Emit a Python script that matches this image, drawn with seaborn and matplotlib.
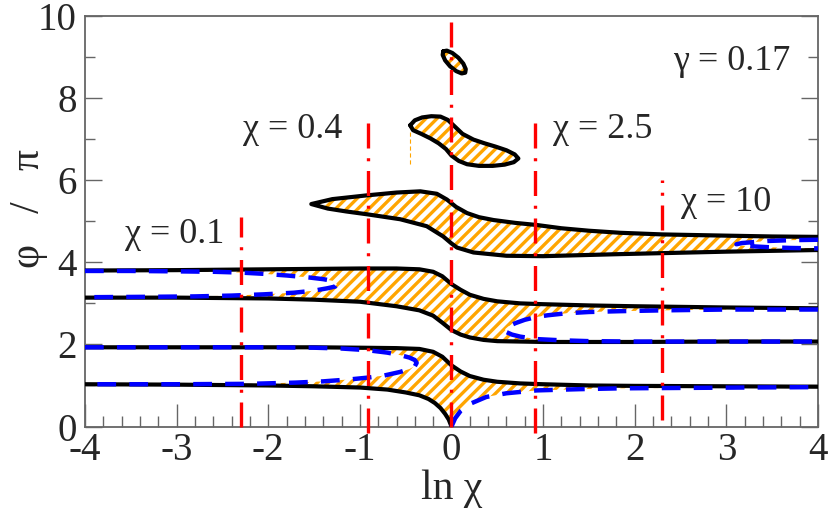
import matplotlib
matplotlib.use("Agg")
import matplotlib.pyplot as plt
import numpy as np
import seaborn as sns

# values: x = ln(chi), y = phi/pi

# black boundaries
l1_x = [-4, -3, -2, -1.5, -1, -0.7, -0.5, -0.35, -0.25, -0.18, -0.12, -0.07, -0.03, 0]
l1_y = [1.03, 1.02, 1.0, 0.98, 0.95, 0.9, 0.83, 0.76, 0.67, 0.57, 0.45, 0.31, 0.17, 0.0]

band_x = [-4, -3, -2, -1.5, -1, -0.6, -0.35, -0.2, -0.1, 0, 0.1, 0.2, 0.35, 0.5, 0.75, 1, 1.5, 2, 3, 4]
l2_y = [1.93, 1.93, 1.93, 1.93, 1.92, 1.91, 1.89, 1.82, 1.70, 1.49, 1.34, 1.23, 1.14, 1.09,
        1.05, 1.03, 1.0, 0.99, 0.98, 0.97]
m1_y = [3.14, 3.14, 3.12, 3.09, 3.04, 2.93, 2.83, 2.70, 2.53, 2.35, 2.24, 2.17, 2.11, 2.08,
        2.07, 2.06, 2.06, 2.06, 2.07, 2.07]
m2_y = [3.80, 3.81, 3.83, 3.84, 3.85, 3.85, 3.83, 3.77, 3.66, 3.47, 3.33, 3.21, 3.11, 3.05,
        3.0, 2.98, 2.95, 2.93, 2.90, 2.88]

top_up_x = [-1.53, -1.3, -0.93, -0.6, -0.34, -0.16, -0.05, 0.05, 0.17, 0.3, 0.46, 0.7,
            0.93, 1.2, 1.5, 1.84, 2.3, 3.0, 3.5, 4.0]
top_up_y = [5.42, 5.54, 5.63, 5.70, 5.73, 5.67, 5.53, 5.35, 5.20, 5.10, 5.03, 4.96,
            4.91, 4.83, 4.77, 4.72, 4.68, 4.65, 4.63, 4.62]
top_lo_x = [-1.53, -1.35, -1.15, -0.92, -0.56, -0.27, -0.09, 0.0, 0.06, 0.24, 0.6, 1.0,
            1.84, 3.0, 4.0]
top_lo_y = [5.42, 5.31, 5.24, 5.17, 5.05, 4.88, 4.63, 4.46, 4.36, 4.24, 4.16, 4.15,
            4.20, 4.26, 4.30]

island_x = [-0.45, -0.4, -0.32, -0.22, -0.12, -0.04, 0.04, 0.12, 0.24, 0.36, 0.48, 0.6,
            0.69, 0.73, 0.68, 0.58, 0.45, 0.3, 0.17, 0.08, 0.0, -0.06, -0.14, -0.23,
            -0.33, -0.42, -0.45]
island_y = [7.34, 7.46, 7.53, 7.56, 7.55, 7.47, 7.30, 7.13, 6.99, 6.90, 6.82, 6.73,
            6.63, 6.53, 6.44, 6.38, 6.35, 6.35, 6.39, 6.47, 6.60, 6.76, 6.90, 7.02,
            7.13, 7.22, 7.34]

loop_x = [-0.09, -0.051, 0.009, 0.075, 0.129, 0.156, 0.15, 0.111, 0.051, -0.015,
          -0.069, -0.096, -0.09]
loop_y = [9.14, 9.158, 9.101, 8.985, 8.841, 8.707, 8.62, 8.602, 8.659, 8.775,
          8.919, 9.052, 9.14]

# blue dashed curves
b1_x = [0, 0.04, 0.1, 0.2, 0.38, 0.6, 0.93, 1.4, 1.84, 2.5, 3.2, 4]
b1_y = [0, 0.2, 0.38, 0.55, 0.72, 0.81, 0.88, 0.91, 0.93, 0.94, 0.95, 0.96]
b2_x = [-4, -3, -2, -1.5, -1.2, -0.92, -0.7, -0.56, -0.46, -0.40, -0.38, -0.40, -0.46,
        -0.56, -0.74, -0.92, -1.1, -1.4, -1.7, -2.2, -3, -4]
b2_y = [1.93, 1.93, 1.93, 1.92, 1.90, 1.86, 1.80, 1.74, 1.68, 1.62, 1.55, 1.47, 1.40,
        1.33, 1.24, 1.19, 1.15, 1.10, 1.07, 1.04, 1.03, 1.03]
b3_x = [-4, -3.5, -3, -2.6, -2.3, -2.05, -1.8, -1.55, -1.4, -1.3, -1.25, -1.27, -1.35,
        -1.5, -1.72, -2.05, -2.4, -2.8, -3.3, -4]
b3_y = [3.79, 3.79, 3.78, 3.77, 3.75, 3.72, 3.68, 3.63, 3.59, 3.55, 3.47, 3.41, 3.37,
        3.31, 3.26, 3.22, 3.19, 3.17, 3.16, 3.15]
b4_x = [4, 3, 2.3, 1.84, 1.5, 1.26, 1.05, 0.93, 0.8, 0.7, 0.62, 0.585, 0.6, 0.66, 0.75,
        0.93, 1.2, 1.5, 2.0, 3.0, 4.0]
b4_y = [2.85, 2.85, 2.83, 2.81, 2.79, 2.76, 2.71, 2.67, 2.60, 2.52, 2.44, 2.37, 2.30,
        2.24, 2.19, 2.13, 2.10, 2.08, 2.07, 2.07, 2.07]
b5_x = [4, 3.7, 3.45, 3.28, 3.17, 3.11, 3.15, 3.28, 3.45, 3.7, 4]
b5_y = [4.55, 4.54, 4.52, 4.49, 4.47, 4.44, 4.41, 4.39, 4.37, 4.35, 4.34]

# red dash-dot markers at chi = 0.1, 0.4, 1, 2.5, 10
chi_marks = [0.1, 0.4, 1.0, 2.5, 10.0]
mark_bottom = [0.0, -0.15, 0.0, -0.15, 0.15]
mark_top = [5.1, 7.5, 10.0, 7.5, 6.0]

labels = ["χ = 0.1", "χ = 0.4", "χ = 2.5", "χ = 10", "γ = 0.17"]
label_x = [-3.56, -2.27, 1.11, 2.50, 2.42]
label_y = [4.47, 7.03, 7.03, 5.26, 8.68]

sns.set_style("ticks")
plt.rcParams["font.family"] = ["Liberation Serif", "DejaVu Serif"]
plt.rcParams["axes.unicode_minus"] = False
plt.rcParams["lines.scale_dashes"] = False
plt.rcParams["hatch.linewidth"] = 2.4

fig = plt.figure(figsize=(8.3, 5.08), dpi=100)
ax = fig.add_axes([0.1024, 0.1604, 0.8831, 0.808])

hatch_kw = dict(facecolor="white", edgecolor="orange", hatch="///", linewidth=0, zorder=1)
mask_kw = dict(facecolor="white", edgecolor="none", linewidth=0, zorder=1.5)

# lowest band
ax.fill(band_x + b1_x[::-1] + l1_x[::-1], l2_y + b1_y[::-1] + l1_y[::-1], **hatch_kw)
ax.fill(b2_x, b2_y, **mask_kw)
# middle band
ax.fill(band_x + band_x[::-1], m2_y + m1_y[::-1], **hatch_kw)
ax.fill(b3_x, b3_y, **mask_kw)
ax.fill(b4_x, b4_y, **mask_kw)
# upper band
ax.fill(top_up_x + top_lo_x[::-1], top_up_y + top_lo_y[::-1], **hatch_kw)
ax.fill(b5_x, b5_y, **mask_kw)
# islands
ax.fill(island_x, island_y, **hatch_kw)
ax.fill(loop_x, loop_y, **hatch_kw)
ax.plot([-0.45, -0.45], [6.4, 7.2], color="orange", lw=0.8, ls=(0, (3, 2)), zorder=1)

black = dict(color="black", lw=3.0, sort=False, estimator=None, ax=ax, zorder=3)
sns.lineplot(x=l1_x, y=l1_y, **black)
sns.lineplot(x=band_x, y=l2_y, **black)
sns.lineplot(x=band_x, y=m1_y, **black)
sns.lineplot(x=band_x, y=m2_y, **black)
sns.lineplot(x=top_up_x[::-1] + top_lo_x[1:], y=top_up_y[::-1] + top_lo_y[1:], **black)
sns.lineplot(x=island_x, y=island_y, **black)
sns.lineplot(x=loop_x, y=loop_y, **black)

blue = dict(color="#0000ff", lw=3.2, sort=False, estimator=None, ax=ax, zorder=4,
            linestyle=(0, (13.5, 9.5)))
for bx, by in [(b1_x, b1_y), (b2_x, b2_y), (b3_x, b3_y), (b4_x, b4_y), (b5_x, b5_y)]:
    sns.lineplot(x=bx, y=by, **blue)

for c, y0, y1 in zip(chi_marks, mark_bottom, mark_top):
    ax.plot([np.log(c)] * 2, [y0, y1], color="red", lw=2.4, zorder=5, clip_on=False,
            linestyle=(0, (18, 7, 2.2, 7)))

for t, tx, ty in zip(labels, label_x, label_y):
    ax.text(tx, ty, t, fontsize=26, ha="left", va="baseline", zorder=6)

ax.set_xlim(-4, 4)
ax.set_ylim(0, 10)
ax.set_xticks(range(-4, 5))
ax.set_xticks(np.arange(-4, 4.01, 0.2), minor=True)
ax.set_yticks(range(0, 11, 2))
ax.set_yticks(range(1, 10, 2), minor=True)
ax.tick_params(which="both", direction="in", color="#666666", width=1.0,
               top=False, right=True, labelsize=28)
ax.tick_params(axis="x", which="major", length=16.5, pad=4)
ax.tick_params(axis="x", which="minor", length=8)
ax.tick_params(axis="y", which="major", length=12.5, pad=6)
ax.tick_params(axis="y", which="minor", length=7)
for s in ax.spines.values():
    s.set_color("#666666")
    s.set_linewidth(1.3)

ax.set_xlabel("ln χ", fontsize=30, labelpad=0)
ax.set_ylabel("φ   /   π", fontsize=30)
ax.yaxis.set_label_coords(-0.05, 0.532)

fig.savefig("out.png", dpi=100)
